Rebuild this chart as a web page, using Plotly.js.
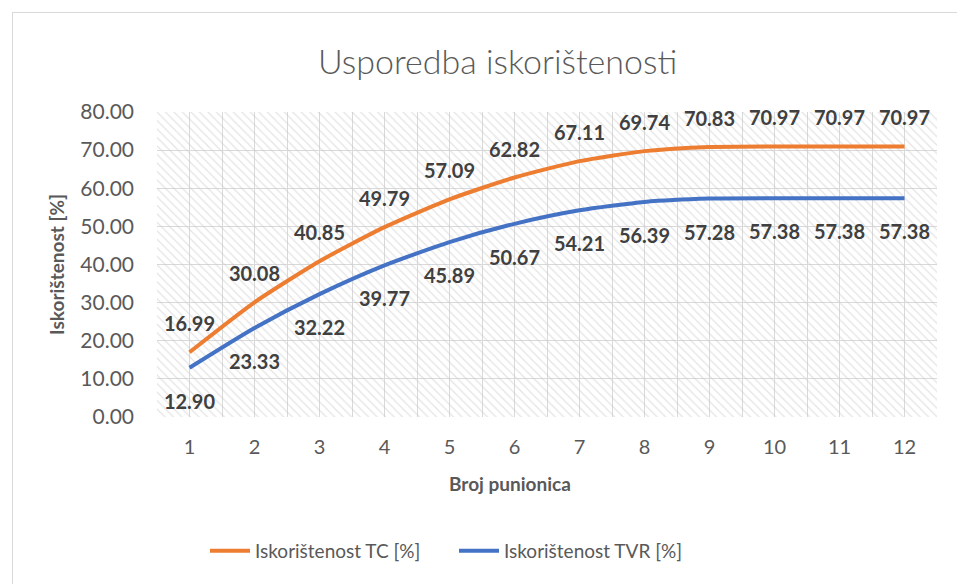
<!DOCTYPE html>
<html>
<head>
<meta charset="utf-8">
<script src="https://cdn.plot.ly/plotly-3.0.1.min.js"></script>
<style>
  html, body { margin: 0; padding: 0; background: #fff; overflow: hidden; }
  #frame { position: absolute; left: 12px; top: 12px; width: 1000px; height: 700px; border: 1px solid #d9d9d9; box-sizing: border-box; }
  #chart { position: absolute; left: 0; top: 0; width: 957px; height: 584px; }
</style>
</head>
<body>
<div id="frame"></div>
<div id="chart"></div>
<script>
const categories = [1, 2, 3, 4, 5, 6, 7, 8, 9, 10, 11, 12];
const seriesTC = [16.99, 30.08, 40.85, 49.79, 57.09, 62.82, 67.11, 69.74, 70.83, 70.97, 70.97, 70.97];
const seriesTVR = [12.90, 23.33, 32.22, 39.77, 45.89, 50.67, 54.21, 56.39, 57.28, 57.38, 57.38, 57.38];
const seriesNames = ['Iskorištenost TC [%]', 'Iskorištenost TVR [%]'];
const yTickVals = [0, 10, 20, 30, 40, 50, 60, 70, 80];
const yMax = 80;

const FONT = 'Lato, "Open Sans", sans-serif';
const fmt = v => v.toFixed(2);

const xMid = (categories[0] + categories[categories.length - 1]) / 2;

const background = {
  type: 'bar', x: [xMid], y: [yMax], width: [categories.length],
  marker: { color: 'rgba(0,0,0,0)', line: { width: 0 },
    pattern: { shape: '\\', fgcolor: '#c8c8c8', bgcolor: 'rgba(0,0,0,0)', size: 6, solidity: 0.2, fillmode: 'overlay' } },
  showlegend: false, hoverinfo: 'skip'
};

function lineTrace(y, name, color, pos, gap) {
  return {
    type: 'scatter', mode: 'lines+markers+text', x: categories, y: y, name: name,
    line: { color: color, width: 4, shape: 'spline', smoothing: 0.6 },
    marker: { size: gap, color: 'rgba(0,0,0,0)', line: { width: 0 } },
    text: y.map(fmt), textposition: pos,
    textfont: { family: FONT, size: 20, color: '#404040', weight: 'bold' },
    cliponaxis: false, hoverinfo: 'skip'
  };
}

const data = [
  background,
  lineTrace(seriesTC, seriesNames[0], '#ED7D31', 'top center', 24),
  lineTrace(seriesTVR, seriesNames[1], '#4472C4', 'bottom center', 40)
];

const layout = {
  width: 957, height: 584,
  margin: { l: 157, r: 20, t: 112, b: 167 },
  paper_bgcolor: 'rgba(0,0,0,0)', plot_bgcolor: 'rgba(0,0,0,0)',
  font: { family: FONT, color: '#595959' },
  title: { text: 'Usporedba iskorištenosti', x: 0.52, xanchor: 'center', y: 0.894, yanchor: 'middle',
    font: { family: FONT, size: 34, color: '#595959', weight: 300 } },
  xaxis: {
    range: [categories[0] - 0.5, categories[categories.length - 1] + 0.5],
    tickmode: 'array', tickvals: categories, ticktext: categories.map(String),
    showgrid: true, gridcolor: '#d9d9d9', gridwidth: 1,
    minor: { tickmode: 'linear', tick0: 0.5, dtick: 1, showgrid: true, gridcolor: '#d9d9d9', gridwidth: 1 },
    zeroline: false, showline: false, ticks: '',
    ticklabelstandoff: 16,
    tickfont: { family: FONT, size: 20, color: '#595959' },
    fixedrange: true
  },
  yaxis: {
    range: [0, yMax], tickmode: 'array', tickvals: yTickVals, ticktext: yTickVals.map(fmt),
    showgrid: true, gridcolor: '#d9d9d9', gridwidth: 1,
    zeroline: false, showline: false, ticks: '',
    ticklabelstandoff: 22,
    tickfont: { family: FONT, size: 21, color: '#595959' },
    title: { text: 'Iskorištenost [%]', standoff: 10, font: { family: FONT, size: 19, color: '#595959', weight: 'bold' } },
    fixedrange: true
  },
  annotations: [{
    text: 'Broj punionica', xref: 'paper', yref: 'paper', x: (510 - 157) / 780, y: -(483 - 417) / 305,
    xanchor: 'center', yanchor: 'middle', showarrow: false,
    font: { family: FONT, size: 19, color: '#595959', weight: 'bold' }
  }],
  legend: {
    orientation: 'h', x: (205 - 157) / 780, xanchor: 'left', y: -(551 - 417) / 305, yanchor: 'middle',
    font: { family: FONT, size: 19, color: '#595959' }, itemwidth: 40, entrywidth: 194, entrywidthmode: 'pixels',
    bgcolor: 'rgba(0,0,0,0)'
  },
  barmode: 'overlay', showlegend: true
};

Plotly.newPlot('chart', data, layout, { displayModeBar: false, staticPlot: true });
</script>
</body>
</html>
